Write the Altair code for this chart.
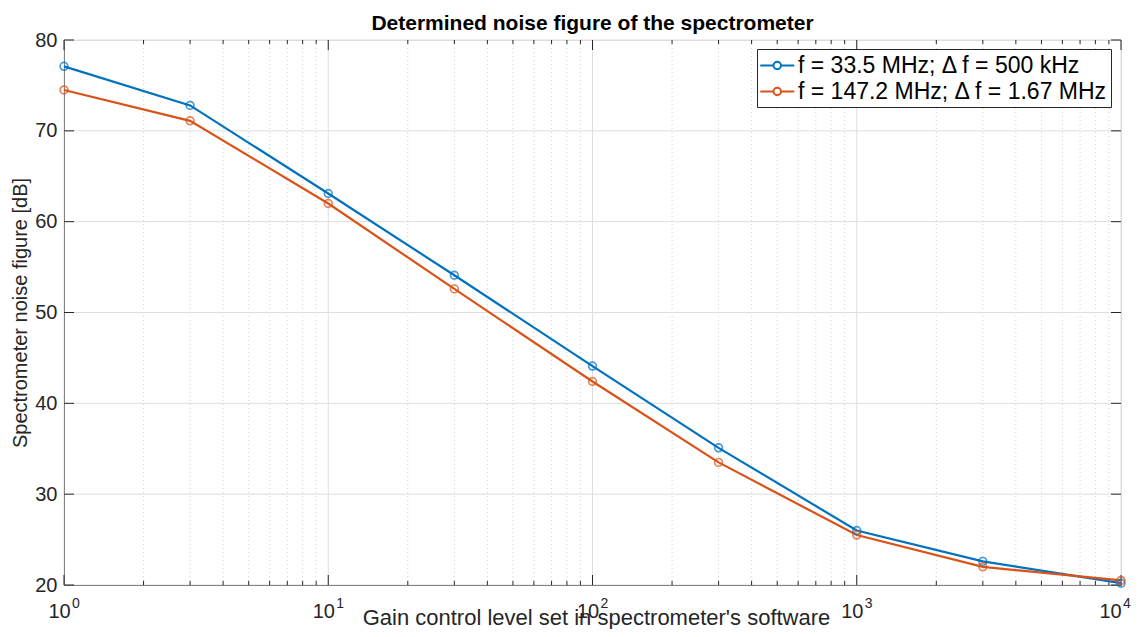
import altair as alt
import pandas as pd

gain = [1, 3, 10, 30, 100, 300, 1000, 3000, 10000]
nf_33 = [77.1, 72.8, 63.1, 54.1, 44.1, 35.1, 26.0, 22.6, 20.2]
nf_147 = [74.5, 71.1, 62.0, 52.6, 42.4, 33.5, 25.5, 22.0, 20.5]
series_names = ["f = 33.5 MHz; \u0394 f = 500 kHz", "f = 147.2 MHz; \u0394 f = 1.67 MHz"]
colors = ["#0072BD", "#D95319"]

x_major = [1, 10, 100, 1000, 10000]
x_exponents = ["0", "1", "2", "3", "4"]
x_minor = [m * d for d in [1, 10, 100, 1000] for m in range(2, 10)]
y_major = [20, 30, 40, 50, 60, 70, 80]

W, H = 1057, 545
FONT = "Liberation Sans"
AX = "#262626"

rows = []
for name, vals in zip(series_names, [nf_33, nf_147]):
    for g, v in zip(gain, vals):
        rows.append({"gain": g, "nf": v, "series": name})
df = pd.DataFrame(rows)

xs = alt.Scale(type="log", domain=[1, 10000])
ys = alt.Scale(domain=[20, 80])

minor_df = pd.DataFrame({"x": x_minor})
xmaj_df = pd.DataFrame({"x": x_major, "exp": x_exponents})
ymaj_df = pd.DataFrame({"y": y_major})

# grids
minor_grid = alt.Chart(minor_df).mark_rule(color="#c4c4c4", strokeDash=[1, 3], strokeWidth=0.8).encode(
    x=alt.X("x:Q", scale=xs)
)
xmaj_grid = alt.Chart(xmaj_df).mark_rule(color="#dedede", strokeWidth=1).encode(x=alt.X("x:Q", scale=xs))
ymaj_grid = alt.Chart(ymaj_df).mark_rule(color="#dedede", strokeWidth=1).encode(y=alt.Y("y:Q", scale=ys))

# inward ticks on all four sides
def xticks(data, length):
    bot = alt.Chart(data).mark_rule(color=AX, strokeWidth=1).encode(
        x=alt.X("x:Q", scale=xs), y=alt.value(H), y2=alt.value(H - length))
    top = alt.Chart(data).mark_rule(color=AX, strokeWidth=1).encode(
        x=alt.X("x:Q", scale=xs), y=alt.value(0), y2=alt.value(length))
    return bot + top

def yticks(data, length):
    left = alt.Chart(data).mark_rule(color=AX, strokeWidth=1).encode(
        y=alt.Y("y:Q", scale=ys), x=alt.value(0), x2=alt.value(length))
    right = alt.Chart(data).mark_rule(color=AX, strokeWidth=1).encode(
        y=alt.Y("y:Q", scale=ys), x=alt.value(W), x2=alt.value(W - length))
    return left + right

# exponent superscripts for the log-axis labels
exps = alt.Chart(xmaj_df).transform_filter("datum.x < 10000").mark_text(
    align="left", baseline="alphabetic", dx=8, fontSize=14, font=FONT, color=AX
).encode(x=alt.X("x:Q", scale=xs), y=alt.value(H + 23), text="exp:N")
exps_last = alt.Chart(xmaj_df).transform_filter("datum.x >= 10000").mark_text(
    align="left", baseline="alphabetic", dx=2, fontSize=14, font=FONT, color=AX
).encode(x=alt.X("x:Q", scale=xs), y=alt.value(H + 23), text="exp:N")

# legend glyph: line with an open circle, drawn wider than the nominal symbol box
legend_symbol = "M-1.06,0L0,0M0.6,0L1.66,0M0.6,0A0.3,0.3,0,1,1,0,0A0.3,0.3,0,1,1,0.6,0"

color_enc = alt.Color(
    "series:N",
    scale=alt.Scale(domain=series_names, range=colors),
    legend=alt.Legend(
        title=None,
        orient="none",
        legendX=693,
        legendY=9,
        direction="vertical",
        strokeColor=AX,
        fillColor="white",
        padding=3,
        labelFont=FONT,
        labelFontSize=23,
        labelColor="#000000",
        labelLimit=600,
        labelOffset=11,
        symbolType=legend_symbol,
        symbolSize=625,
        symbolStrokeWidth=2,
        symbolFillColor="transparent",
        rowPadding=0,
    ),
)

lines = alt.Chart(df).mark_line(strokeWidth=2.2).encode(
    x=alt.X(
        "gain:Q",
        scale=xs,
        title="Gain control level set in spectrometer's software",
        axis=alt.Axis(
            values=x_major,
            labelExpr="'10'",
            grid=False,
            ticks=False,
            domainColor=AX,
            labelColor=AX,
            labelFont=FONT,
            labelFontSize=20,
            labelPadding=16,
            labelOffset=alt.expr("datum.value >= 10000 ? -11 : -5"),
            labelFlush=False,
            titleFont=FONT,
            titleFontSize=22,
            titleFontWeight="normal",
            titleColor=AX,
            titleBaseline="alphabetic",
            titleAlign="center",
            titleX=532,
            titleY=39,
        ),
    ),
    y=alt.Y(
        "nf:Q",
        scale=ys,
        title="Spectrometer noise figure [dB]",
        axis=alt.Axis(
            values=y_major,
            grid=False,
            ticks=False,
            domainColor=AX,
            labelColor=AX,
            labelFont=FONT,
            labelFontSize=20,
            labelPadding=7,
            titleFont=FONT,
            titleFontSize=20,
            titleFontWeight="normal",
            titleColor=AX,
            titlePadding=4,
        ),
    ),
    color=color_enc,
    order=alt.Order("gain:Q"),
)

points = alt.Chart(df).mark_point(shape="circle", filled=False, size=60, strokeWidth=1.7).encode(
    x=alt.X("gain:Q", scale=xs),
    y=alt.Y("nf:Q", scale=ys),
    color=alt.Color("series:N", scale=alt.Scale(domain=series_names, range=colors), legend=None),
)

chart = alt.layer(
    minor_grid, xmaj_grid, ymaj_grid,
    xticks(minor_df, 4), xticks(xmaj_df[["x"]], 10), yticks(ymaj_df, 10),
    exps, exps_last, lines, points,
).properties(
    width=W,
    height=H,
    title=alt.TitleParams(
        "Determined noise figure of the spectrometer",
        font=FONT,
        fontSize=21,
        fontWeight="bold",
        color="#000000",
        anchor="middle",
        offset=0,
        dy=4,
    ),
    autosize=alt.AutoSizeParams(type="none"),
    padding={"left": 56, "top": 32, "right": 11, "bottom": 44},
).configure_view(stroke=AX, strokeWidth=1).configure(background="white")

chart.save("out.html", embed_options={"renderer": "svg", "actions": False})
